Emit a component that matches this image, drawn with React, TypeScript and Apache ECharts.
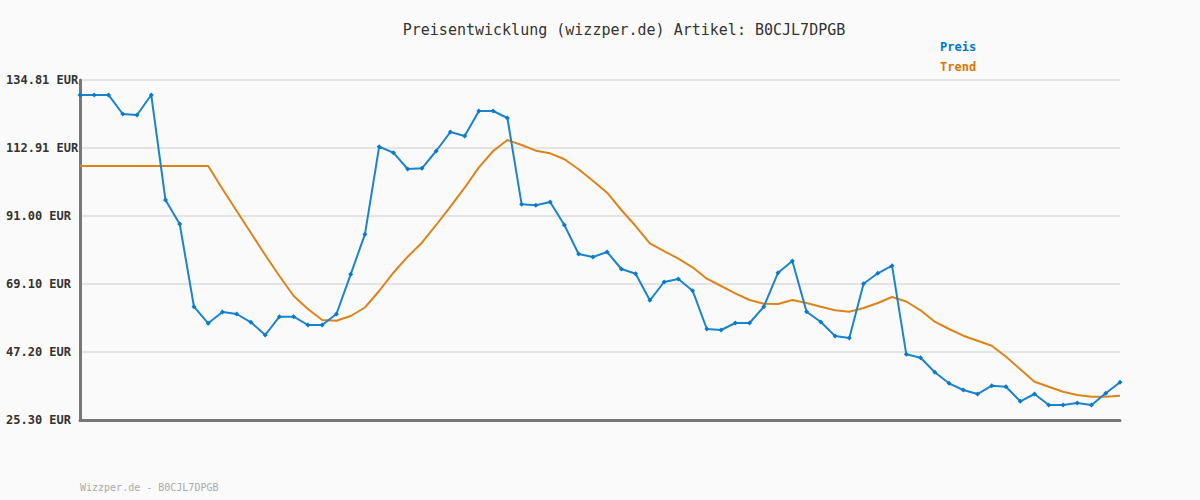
import React, { useEffect, useRef } from "react";
import * as echarts from "echarts";

const yTickLabels = ["25.30 EUR", "47.20 EUR", "69.10 EUR", "91.00 EUR", "112.91 EUR", "134.81 EUR"];
const yMin = 25.3;
const yStep = 21.902;

const preis = [
  129.99, 129.99, 129.99, 123.86, 123.54, 129.99, 96.16, 88.43, 61.79, 56.45,
  60.09, 59.44, 56.77, 52.68, 58.57, 58.57, 55.9, 55.9, 59.44, 72.23,
  85.11, 113.33, 111.39, 106.14, 106.37, 111.94, 118.06, 116.77, 124.83, 124.83,
  122.57, 94.77, 94.45, 95.52, 88.11, 78.77, 77.8, 79.41, 73.94, 72.42,
  63.85, 69.75, 70.71, 66.95, 54.61, 54.29, 56.54, 56.54, 61.79, 72.74,
  76.51, 60.18, 56.86, 52.35, 51.71, 69.2, 72.55, 75.0, 46.46, 45.37,
  40.66, 37.12, 34.96, 33.67, 36.35, 36.02, 31.32, 33.67, 30.13, 30.13,
  30.77, 30.13, 33.9, 37.44,
];

const trend = [
  107.11, 107.11, 107.11, 107.11, 107.11, 107.11, 107.11, 107.11, 107.11, 107.11,
  99.7, 92.62, 85.53, 78.44, 71.68, 65.24, 61.05, 57.51, 57.28, 58.8,
  61.53, 66.85, 72.74, 77.9, 82.41, 88.11, 94.0, 100.12, 106.69, 111.94,
  115.48, 113.87, 112.04, 111.2, 109.27, 106.05, 102.38, 98.51, 92.94, 87.78,
  82.21, 79.73, 77.25, 74.48, 70.81, 68.46, 66.11, 63.95, 62.76, 62.66,
  63.95, 62.98, 61.79, 60.63, 60.18, 61.37, 62.98, 64.92, 63.47, 60.63,
  56.96, 54.61, 52.45, 50.84, 49.23, 45.69, 41.63, 37.63, 36.02, 34.41,
  33.35, 32.8, 32.8, 33.13,
];

const categories = preis.map((_, i) => String(i + 1));

const FONT = "'DejaVu Sans Mono', monospace";

export default function App() {
  const ref = useRef<HTMLDivElement>(null);

  useEffect(() => {
    if (!ref.current) return;
    const chart = echarts.init(ref.current, undefined, { renderer: "svg" });
    const norm = (v: number) => (v - yMin) / yStep;
    chart.setOption({
      animation: false,
      backgroundColor: "#fafafa",
      title: {
        text: "Preisentwicklung (wizzper.de) Artikel: B0CJL7DPGB",
        left: 619,
        top: 17,
        textAlign: "center",
        textStyle: { fontFamily: FONT, fontSize: 15, fontWeight: "normal", color: "#333" },
      },
      graphic: [
        {
          type: "text",
          left: 940,
          top: 41,
          style: { text: "Preis", fill: "#0077cc", font: `bold 12px ${FONT}` },
        },
        {
          type: "text",
          left: 940,
          top: 61,
          style: { text: "Trend", fill: "#dd7700", font: `bold 12px ${FONT}` },
        },
        {
          type: "text",
          left: 80,
          top: 482,
          style: { text: "Wizzper.de - B0CJL7DPGB", fill: "#aaaaaa", font: `10px ${FONT}` },
        },
      ],
      grid: { left: 80, right: 80, top: 80, bottom: 80, containLabel: false },
      xAxis: {
        type: "category",
        data: categories,
        boundaryGap: false,
        axisLine: { lineStyle: { color: "#777", width: 3 } },
        axisTick: { show: false },
        axisLabel: { show: false },
        splitLine: { show: false },
      },
      yAxis: {
        type: "value",
        min: 0,
        max: 5,
        interval: 1,
        axisLine: { show: true, lineStyle: { color: "#777", width: 3 } },
        axisTick: { show: false },
        axisLabel: {
          formatter: (v: number) => yTickLabels[Math.round(v)] ?? "",
          fontFamily: FONT,
          fontWeight: "bold",
          fontSize: 12,
          color: "#333",
          align: "left",
          margin: 74,
        },
        splitLine: { lineStyle: { color: "#e4e4e4", width: 2 } },
      },
      series: [
        {
          name: "Trend",
          type: "line",
          data: trend.map(norm),
          symbol: "none",
          lineStyle: { color: "#dd8419", width: 2 },
          z: 2,
        },
        {
          name: "Preis",
          type: "line",
          data: preis.map(norm),
          symbol: "diamond",
          symbolSize: 5,
          itemStyle: { color: "#0a7acb" },
          lineStyle: { color: "#1a84cc", width: 2 },
          z: 3,
        },
      ],
    });
    return () => chart.dispose();
  }, []);

  return <div ref={ref} style={{ width: 1200, height: 500, position: "absolute", left: 0, top: 0 }} />;
}
